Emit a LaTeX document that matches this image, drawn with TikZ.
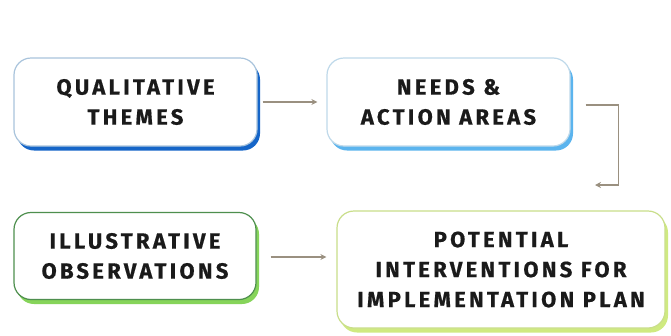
\documentclass[tikz,border=0pt]{standalone}
\usepackage{fontspec}
\setmainfont{Fira Sans}
\newfontfamily\boxfont[LetterSpace=15,BoldFeatures={FakeBold=0.6}]{Fira Sans}
\usetikzlibrary{shadows,arrows.meta}
\definecolor{txt}{HTML}{1A1A1A}
\definecolor{arrc}{HTML}{9A9080}
\definecolor{bA}{HTML}{A9C4DC}\definecolor{sA}{HTML}{1565C8}
\definecolor{bB}{HTML}{BFD9EA}\definecolor{sB}{HTML}{5BB4EE}
\definecolor{bC}{HTML}{4E8F4E}\definecolor{sC}{HTML}{86D45A}
\definecolor{bD}{HTML}{C9DE8A}\definecolor{sD}{HTML}{CFEA80}
\tikzset{
  flowbox/.style={draw, line width=1.2pt, rounded corners=17pt, fill=white,
    align=center, text=txt, inner sep=0pt,
    font=\boxfont\bfseries\fontsize{22}{30}\selectfont},
  arr/.style={draw=arrc, line width=1.1pt, -{Stealth[length=6pt,width=6pt]}},
}
\begin{document}
\begin{tikzpicture}[x=1pt,y=-1pt]
\useasboundingbox[fill=white] (0,0) rectangle (671,335);
\node[flowbox, draw=bA, minimum width=243pt, minimum height=88pt,
  general shadow={fill=sA, shadow xshift=3pt, shadow yshift=-4.5pt}]
  (q) at (135.5,102) {QUALITATIVE\\THEMES};
\node[flowbox, draw=bB, minimum width=243pt, minimum height=88pt,
  general shadow={fill=sB, shadow xshift=3pt, shadow yshift=-4.5pt}]
  (n) at (448.5,102) {NEEDS \&\\ACTION AREAS};
\node[flowbox, draw=bC, minimum width=242pt, minimum height=87pt,
  general shadow={fill=sC, shadow xshift=3pt, shadow yshift=-4.5pt}]
  (i) at (135,256) {ILLUSTRATIVE\\OBSERVATIONS};
\node[flowbox, draw=bD, minimum width=328pt, minimum height=117pt,
  general shadow={fill=sD, shadow xshift=3pt, shadow yshift=-4.5pt}]
  (p) at (501,269.5) {POTENTIAL\\INTERVENTIONS FOR\\IMPLEMENTATION PLAN};
\draw[arr] ([xshift=5pt]q.east) -- ([xshift=-9pt]n.west);
\coordinate (e2) at (595,185);
\draw[arr] ([xshift=15pt,yshift=-3pt]n.east) -- ++(33,0) |- (e2);
\draw[arr] ([xshift=14pt,yshift=-1pt]i.east) -- ([xshift=-10pt,yshift=-1pt]p.west |- i.east);
\end{tikzpicture}
\end{document}
